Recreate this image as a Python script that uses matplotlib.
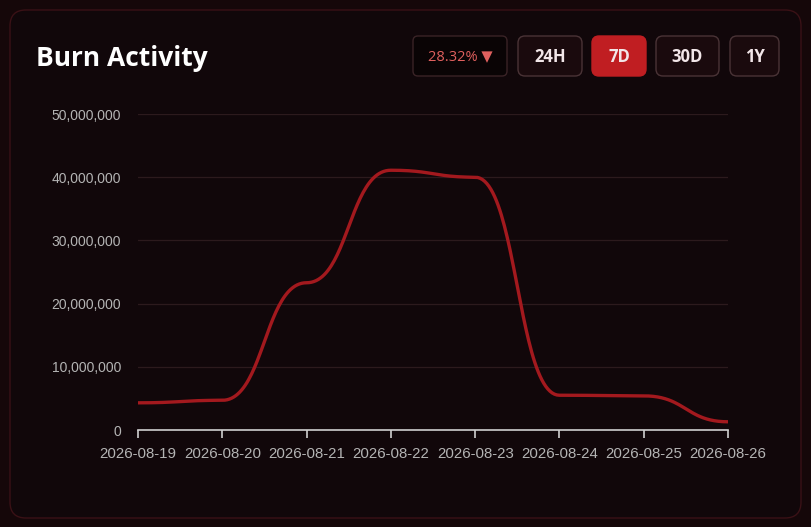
import numpy as np
import matplotlib
matplotlib.use("Agg")
import matplotlib.pyplot as plt
from matplotlib.patches import FancyBboxPatch
from matplotlib.ticker import FuncFormatter

# data
dates = ["2026-08-19", "2026-08-20", "2026-08-21", "2026-08-22",
         "2026-08-23", "2026-08-24", "2026-08-25", "2026-08-26"]
burned = [4.3e6, 4.7e6, 23.3e6, 41.1e6, 40.0e6, 5.5e6, 5.4e6, 1.3e6]
y_ticks = [0, 10e6, 20e6, 30e6, 40e6, 50e6]
buttons = ["24H", "7D", "30D", "1Y"]
active = "7D"
change_label = "28.32% \u25BC"

W, H = 812, 527
BG = "#150709"
CARD = "#11070a"
RED = "#a3191e"


def bump_x(x, y, n=50):
    # like d3.curveBumpX: flat tangent at every point
    xs, ys = [], []
    u = np.linspace(0, 1, n)
    for i in range(len(x) - 1):
        x0, x1, y0, y1 = x[i], x[i + 1], y[i], y[i + 1]
        xm = (x0 + x1) / 2
        bx = (1 - u)**3 * x0 + 3 * (1 - u)**2 * u * xm + 3 * (1 - u) * u**2 * xm + u**3 * x1
        by = (1 - u)**3 * y0 + 3 * (1 - u)**2 * u * y0 + 3 * (1 - u) * u**2 * y1 + u**3 * y1
        xs.append(bx)
        ys.append(by)
    return np.concatenate(xs), np.concatenate(ys)


def fx(px):
    return px / W


def fy(py):
    return 1 - py / H


def box(x0, y0, x1, y1, fc, ec, r=6, lw=1.0, z=-1):
    p = FancyBboxPatch((fx(x0), fy(y1)), fx(x1) - fx(x0), fy(y0) - fy(y1),
                       boxstyle="round,pad=0,rounding_size=%f" % (r / W),
                       transform=fig.transFigure, facecolor=fc, edgecolor=ec,
                       linewidth=lw, mutation_aspect=W / H, zorder=z)
    fig.add_artist(p)


fig = plt.figure(figsize=(W / 100, H / 100), dpi=100)
fig.patch.set_facecolor(BG)

# card
box(10, 10, 801, 518, CARD, "#3a1116", r=16, lw=1.0, z=-2)

fig.text(fx(36), fy(59), "Burn Activity", color="white", fontsize=19,
         fontweight="bold", family="Open Sans", va="center", ha="left")

# change badge + range buttons
box(413, 36, 507, 76, "#0a0405", "#3a2326", r=5)
fig.text(fx(460), fy(57), change_label, color="#e0605e", fontsize=10.5,
         family=["Open Sans", "DejaVu Sans"], ha="center", va="center")
btn_x = [(518, 582), (592, 646), (656, 719), (730, 779)]
for label, (a, b) in zip(buttons, btn_x):
    if label == active:
        box(a, 36, b, 76, "#c01e22", "#c01e22", r=7)
    else:
        box(a, 36, b, 76, "#1a0a0d", "#4a3336", r=7)
    fig.text(fx((a + b) / 2), fy(57), label, color="#f2e6e8", fontsize=12,
             fontweight="bold", family="Open Sans", ha="center", va="center")

ax = fig.add_axes([fx(138), fy(430), fx(728) - fx(138), fy(114) - fy(430)])
ax.set_facecolor("none")

xi = np.arange(len(dates))
cx, cy = bump_x(xi, burned)
ax.plot(cx, cy, color=RED, linewidth=2.4, solid_capstyle="round", zorder=3)

ax.set_xlim(0, len(dates) - 1)
ax.set_ylim(0, 50e6)
ax.set_yticks(y_ticks)
ax.yaxis.set_major_formatter(FuncFormatter(lambda v, _: f"{int(v):,}"))
ax.set_xticks(xi)
ax.set_xticklabels(dates)
ax.grid(axis="y", color="#2c1a1d", linewidth=0.9)
ax.set_axisbelow(True)

for side in ["top", "right", "left"]:
    ax.spines[side].set_visible(False)
ax.spines["bottom"].set_color("#cfcfcf")
ax.spines["bottom"].set_linewidth(1.2)
ax.tick_params(axis="x", colors="#cfcfcf", length=6, width=1.2, pad=6,
               labelcolor="#b4b4b4", labelsize=10.8)
ax.tick_params(axis="y", length=0, pad=12, labelcolor="#b4b4b4", labelsize=10)
for lab in ax.get_xticklabels() + ax.get_yticklabels():
    lab.set_family("Liberation Sans")

fig.savefig("out.png", dpi=100, facecolor=BG)
